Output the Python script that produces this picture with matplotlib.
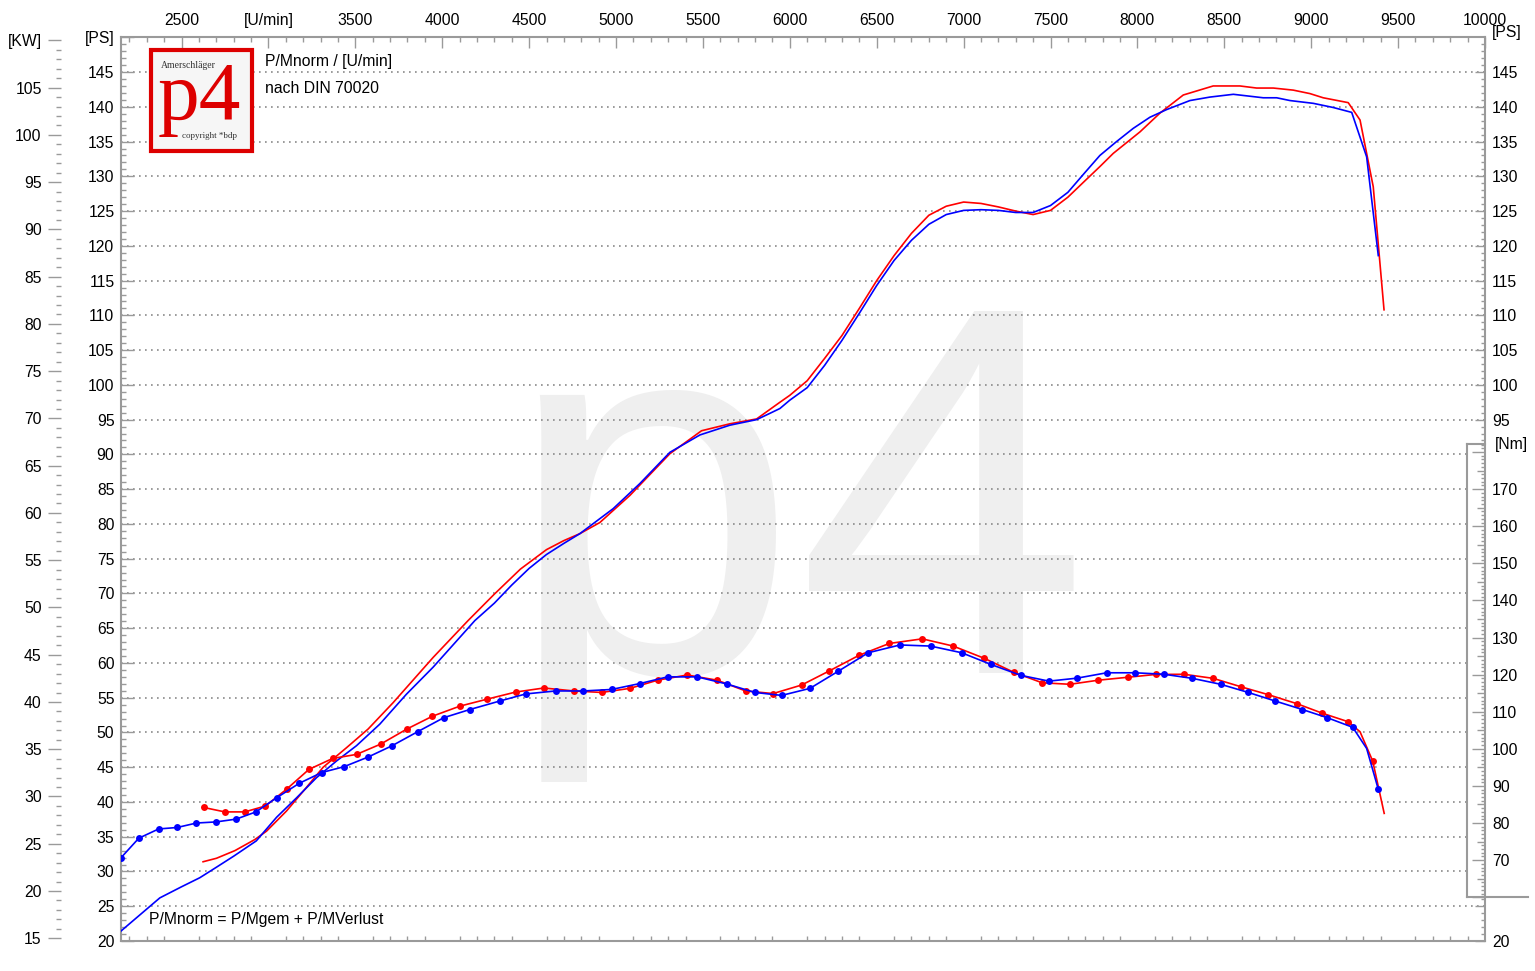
import matplotlib
matplotlib.use('Agg')
import matplotlib.pyplot as plt
from matplotlib.ticker import FixedLocator, FuncFormatter, NullFormatter
from matplotlib.patches import Rectangle
from matplotlib.lines import Line2D

plt.rcParams['font.family'] = ['Liberation Sans', 'DejaVu Sans']

# ---------------- data ----------------
# power curves [rpm] -> [PS]
rpm_power_blue = [2150, 2375, 2414, 2500, 2605, 2700, 2800, 2930, 3047, 3162, 3277, 3392, 3507,
                  3641, 3794, 3948, 4188, 4300, 4400, 4500, 4600, 4700, 4792, 4984, 5137, 5310,
                  5483, 5655, 5809, 5885, 5943, 6000, 6100, 6200, 6300, 6400, 6500, 6600, 6700,
                  6800, 6900, 7000, 7100, 7200, 7300, 7400, 7500, 7600, 7700, 7784, 7880, 7976,
                  8072, 8168, 8302, 8417, 8552, 8724, 8801, 8878, 9012, 9127, 9233, 9319, 9386]
ps_blue = [21.4, 26.2, 26.7, 27.8, 29.1, 30.6, 32.2, 34.4, 37.8, 40.6, 43.5, 45.9, 48.1,
           51.2, 55.5, 59.4, 66.1, 68.6, 71.2, 73.6, 75.6, 77.2, 78.6, 82.2, 85.8, 90.3,
           92.8, 94.2, 95.0, 95.9, 96.6, 97.8, 99.6, 102.8, 106.4, 110.3, 114.3, 117.9, 120.8,
           123.1, 124.5, 125.1, 125.2, 125.1, 124.8, 124.8, 125.8, 127.7, 130.6, 133.0, 135.0, 136.9,
           138.5, 139.6, 140.9, 141.4, 141.8, 141.3, 141.3, 140.9, 140.5, 139.9, 139.2, 132.8, 118.6]

rpm_power_red = [2624, 2701, 2807, 2922, 2989, 3104, 3219, 3315, 3449, 3574, 3718, 3948, 4149,
                 4300, 4450, 4600, 4700, 4792, 4907, 5080, 5310, 5492, 5655, 5809, 5943, 6000,
                 6100, 6200, 6300, 6400, 6500, 6600, 6700, 6800, 6900, 7000, 7100, 7200, 7300,
                 7400, 7500, 7600, 7700, 7784, 7861, 8015, 8130, 8264, 8436, 8590, 8686, 8782,
                 8897, 8993, 9069, 9213, 9281, 9357, 9419]
ps_red = [31.4, 31.9, 33.0, 34.6, 35.8, 38.7, 42.1, 45.0, 47.8, 50.5, 54.3, 60.8, 66.1,
          69.9, 73.5, 76.3, 77.6, 78.6, 80.2, 84.1, 90.1, 93.4, 94.4, 95.1, 97.5, 98.5,
          100.6, 103.8, 107.1, 111.0, 115.0, 118.6, 121.8, 124.4, 125.7, 126.3, 126.1, 125.6, 125.0,
          124.5, 125.1, 127.0, 129.4, 131.4, 133.3, 136.4, 139.1, 141.7, 143.0, 143.0, 142.7, 142.7,
          142.4, 141.9, 141.3, 140.6, 138.1, 128.5, 110.8]

# torque curves [rpm] -> [Nm]
rpm_torque_blue = [2149, 2254, 2368, 2475, 2586, 2699, 2814, 2928, 3047, 3177, 3306, 3436, 3574,
                   3710, 3858, 4009, 4159, 4332, 4481, 4652, 4811, 4974, 5137, 5297, 5467, 5636,
                   5799, 5953, 6116, 6278, 6451, 6634, 6810, 6989, 7157, 7330, 7491, 7654, 7823,
                   7986, 8153, 8316, 8479, 8638, 8792, 8949, 9092, 9239, 9319, 9386]
nm_blue = [70.5, 75.9, 78.4, 78.8, 80.0, 80.3, 81.05, 83.0, 86.8, 90.7, 93.6, 95.2, 97.8,
           100.8, 104.6, 108.4, 110.6, 112.9, 114.8, 115.6, 115.6, 116.0, 117.6, 119.4, 119.4, 117.5,
           115.2, 114.4, 116.3, 120.9, 125.9, 128.0, 127.7, 125.9, 122.75, 119.8, 118.25, 119.06, 120.5,
           120.5, 120.1, 119.0, 117.4, 115.2, 112.9, 110.6, 108.4, 105.8, 100.1, 89.1]
nodot_blue = [9319]

rpm_torque_red = [2627, 2749, 2864, 2983, 3104, 3233, 3369, 3507, 3647, 3795, 3944, 4101, 4259,
                  4422, 4585, 4757, 4917, 5080, 5239, 5410, 5582, 5746, 5904, 6068, 6227, 6398,
                  6572, 6762, 6940, 7119, 7290, 7452, 7612, 7775, 7946, 8105, 8268, 8436, 8598,
                  8753, 8916, 9064, 9213, 9281, 9354, 9420]
nm_red = [84.2, 83.0, 83.0, 84.6, 89.1, 94.45, 97.4, 98.5, 101.3, 105.3, 108.8, 111.5, 113.4,
          115.3, 116.4, 115.6, 115.2, 116.3, 118.5, 119.9, 118.5, 115.6, 114.9, 117.2, 121.0, 125.2,
          128.4, 129.65, 127.7, 124.4, 120.6, 117.8, 117.4, 118.5, 119.3, 120.05, 120.1, 119.0, 116.7,
          114.6, 112.2, 109.6, 107.3, 104.6, 96.7, 82.6]
nodot_red = [9281, 9420]

x_labels = {3000: '[U/min]'}

# ---------------- layout ----------------
W, H = 1535, 971
fig = plt.figure(figsize=(W / 100, H / 100), dpi=100)
L, R, T, B = 120.7, 1485, 37.3, 941
ax = fig.add_axes([L / W, 1 - B / H, (R - L) / W, (B - T) / H])
XMIN, XMAX = 2150, 10000
PSMIN, PSMAX = 20, 150
NM_LIM = (48.2, 291.8)
GRAY = '#9a9a9a'
FS = 11.3

def fx(px):
    return px / W

def fy(py):
    return 1 - py / H

ax.set_xlim(XMIN, XMAX)
ax.set_ylim(PSMIN, PSMAX)
ax.set_axisbelow(True)
for s in ax.spines.values():
    s.set_color(GRAY)
    s.set_linewidth(1.5)

# x axis (bottom)
xmaj = list(range(2500, 10001, 500))
xmin_ = [v for v in range(2200, 10001, 100) if v % 500]
xfmt = FuncFormatter(lambda v, p: x_labels.get(int(round(v)), f'{int(round(v))}'))
ax.xaxis.set_major_locator(FixedLocator(xmaj))
ax.xaxis.set_minor_locator(FixedLocator(xmin_))
ax.xaxis.set_major_formatter(xfmt)
ax.tick_params(axis='x', which='major', direction='in', length=8.5, width=1, color=GRAY,
               labelsize=FS, pad=9.5, bottom=True, top=False)
ax.tick_params(axis='x', which='minor', direction='in', length=3.6, width=1, color=GRAY,
               bottom=True, top=False)

secx = ax.secondary_xaxis('top')
secx.xaxis.set_major_locator(FixedLocator(xmaj))
secx.xaxis.set_minor_locator(FixedLocator(xmin_))
secx.xaxis.set_major_formatter(xfmt)
secx.tick_params(axis='x', which='major', direction='in', length=8.0, width=1, color=GRAY,
                 labelsize=FS, pad=7)
secx.tick_params(axis='x', which='minor', direction='in', length=3.6, width=1, color=GRAY)
secx.spines['top'].set_visible(False)

# left PS axis
ymaj = list(range(20, 151, 5))
ax.yaxis.set_major_locator(FixedLocator(ymaj))
ax.yaxis.set_minor_locator(FixedLocator([v for v in range(20, 151) if v % 5]))
ax.yaxis.set_major_formatter(FuncFormatter(lambda v, p: '[PS]' if int(round(v)) == 150 else f'{int(round(v))}'))
ax.tick_params(axis='y', which='major', direction='in', length=9.4, width=1, color=GRAY,
               labelsize=FS, pad=4.5, left=True, right=False)
ax.tick_params(axis='y', which='minor', direction='in', length=3.6, width=1, color=GRAY,
               left=True, right=False)

ax.grid(True, which='major', color='#8a8a8a', linestyle=(0, (1, 2.6)), linewidth=1.2)

# KW axis on the far left
kw = ax.secondary_yaxis((61 - L) / (R - L),
                        functions=(lambda p: p * 0.73549875, lambda k: k / 0.73549875))
for s in kw.spines.values():
    s.set_visible(False)
kw.yaxis.set_major_locator(FixedLocator(list(range(15, 111, 5))))
kw.yaxis.set_minor_locator(FixedLocator([v for v in range(15, 111) if v % 5]))
kw.yaxis.set_major_formatter(FuncFormatter(lambda v, p: '[KW]' if int(round(v)) == 110 else f'{int(round(v))}'))
kw.tick_params(axis='y', which='major', direction='out', length=9.4, width=1, color=GRAY,
               labelsize=FS, pad=4.5)
kw.tick_params(axis='y', which='minor', direction='out', length=3.6, width=1, color=GRAY)

# right PS axis
tps = ax.twinx()
tps.set_ylim(PSMIN, PSMAX)
for s in tps.spines.values():
    s.set_visible(False)
tps.yaxis.set_major_locator(FixedLocator([20, 25] + list(range(95, 146, 5))))
tps.yaxis.set_minor_locator(FixedLocator([21, 22, 23, 24, 26] + [v for v in range(92, 150) if v % 5]))
tps.yaxis.set_major_formatter(FuncFormatter(lambda v, p: '' if int(round(v)) == 25 else f'{int(round(v))}'))
tps.tick_params(axis='y', which='major', direction='in', length=7.5, width=1, color=GRAY,
                labelsize=FS, pad=5)
tps.tick_params(axis='y', which='minor', direction='in', length=3.0, width=1, color=GRAY)
tps.set_xticks([])

# Nm axis (box on the right)
BOX_X0, BOX_TOP, BOX_BOT = 1467, 444, 897
box = Rectangle(((BOX_X0 - L) / (R - L), (B - BOX_BOT) / (B - T)), (R - BOX_X0) / (R - L),
                (BOX_BOT - BOX_TOP) / (B - T), transform=ax.transAxes, facecolor='white',
                edgecolor='none', zorder=0.8)
ax.add_patch(box)
for xs, ys in [([BOX_X0, BOX_X0], [BOX_TOP, BOX_BOT]), ([BOX_X0, R], [BOX_TOP, BOX_TOP]),
               ([BOX_X0, 1528], [BOX_BOT, BOX_BOT])]:
    fig.add_artist(Line2D([fx(v) for v in xs], [fy(v) for v in ys], transform=fig.transFigure,
                          color=GRAY, lw=1.5))

tnm = ax.twinx()
tnm.set_ylim(*NM_LIM)
for s in tnm.spines.values():
    s.set_visible(False)
tnm.yaxis.set_major_locator(FixedLocator(list(range(60, 181, 10))))
tnm.yaxis.set_minor_locator(FixedLocator([v for v in range(61, 183) if v % 5]))
tnm.yaxis.set_major_formatter(FuncFormatter(lambda v, p: f'{int(round(v))}' if 70 <= v <= 170 else ''))
tnm.tick_params(axis='y', which='major', direction='in', length=9.4, width=1, color=GRAY,
                labelsize=FS, pad=5)
tnm.tick_params(axis='y', which='minor', direction='in', length=3.0, width=1, color=GRAY)

tnm2 = ax.twinx()
tnm2.set_ylim(*NM_LIM)
for s in tnm2.spines.values():
    s.set_visible(False)
tnm2.yaxis.set_major_locator(FixedLocator(list(range(65, 180, 10))))
tnm2.yaxis.set_major_formatter(NullFormatter())
tnm2.tick_params(axis='y', which='major', direction='in', length=5.5, width=1, color=GRAY)
tnm2.yaxis.set_minor_locator(FixedLocator([]))

# watermark
ax.text(4360, 58.5, 'p4', fontsize=378, color='#efefef', ha='left', va='baseline',
        zorder=0.2, family='Liberation Sans')

# ---------------- curves ----------------
ax.plot(rpm_power_red, ps_red, color='#ff0000', lw=1.2, zorder=3)
ax.plot(rpm_power_blue, ps_blue, color='#0000ff', lw=1.2, zorder=3)

me_r = [i for i, r in enumerate(rpm_torque_red) if r not in nodot_red]
me_b = [i for i, r in enumerate(rpm_torque_blue) if r not in nodot_blue]
tnm.plot(rpm_torque_red, nm_red, color='#ff0000', lw=1.2, marker='o', markersize=5,
         markeredgewidth=0, markevery=me_r)
tnm.plot(rpm_torque_blue, nm_blue, color='#0000ff', lw=1.2, marker='o', markersize=5,
         markeredgewidth=0, markevery=me_b)
tnm.set_xlim(XMIN, XMAX)

# ---------------- texts ----------------
fig.text(fx(1492), fy(32), '[PS]', fontsize=FS, ha='left', va='center')
fig.text(fx(1495), fy(445), '[Nm]', fontsize=FS, ha='left', va='center')
fig.text(fx(265), fy(61.5), 'P/Mnorm / [U/min]', fontsize=FS, ha='left', va='center')
fig.text(fx(265), fy(88.5), 'nach DIN 70020', fontsize=FS, ha='left', va='center')
fig.text(fx(149), fy(919.5), 'P/Mnorm = P/Mgem + P/MVerlust', fontsize=FS, ha='left', va='center')

# logo
fig.add_artist(Rectangle((fx(151), fy(151.5)), 101 / W, 101.5 / H, transform=fig.transFigure,
                         facecolor='#f6f6f6', edgecolor='#dd0000', lw=3))
fig.text(fx(161), fy(65), 'Amerschläger', fontsize=7, family='Liberation Serif', color='#333333',
         ha='left', va='center')
fig.text(fx(158), fy(119), 'p4', fontsize=60, family='Liberation Serif', color='#dd0000',
         ha='left', va='baseline')
fig.text(fx(182), fy(136), 'copyright *bdp', fontsize=6.5, family='Liberation Serif', color='#333333',
         ha='left', va='center')

fig.savefig('out.png', dpi=100)
